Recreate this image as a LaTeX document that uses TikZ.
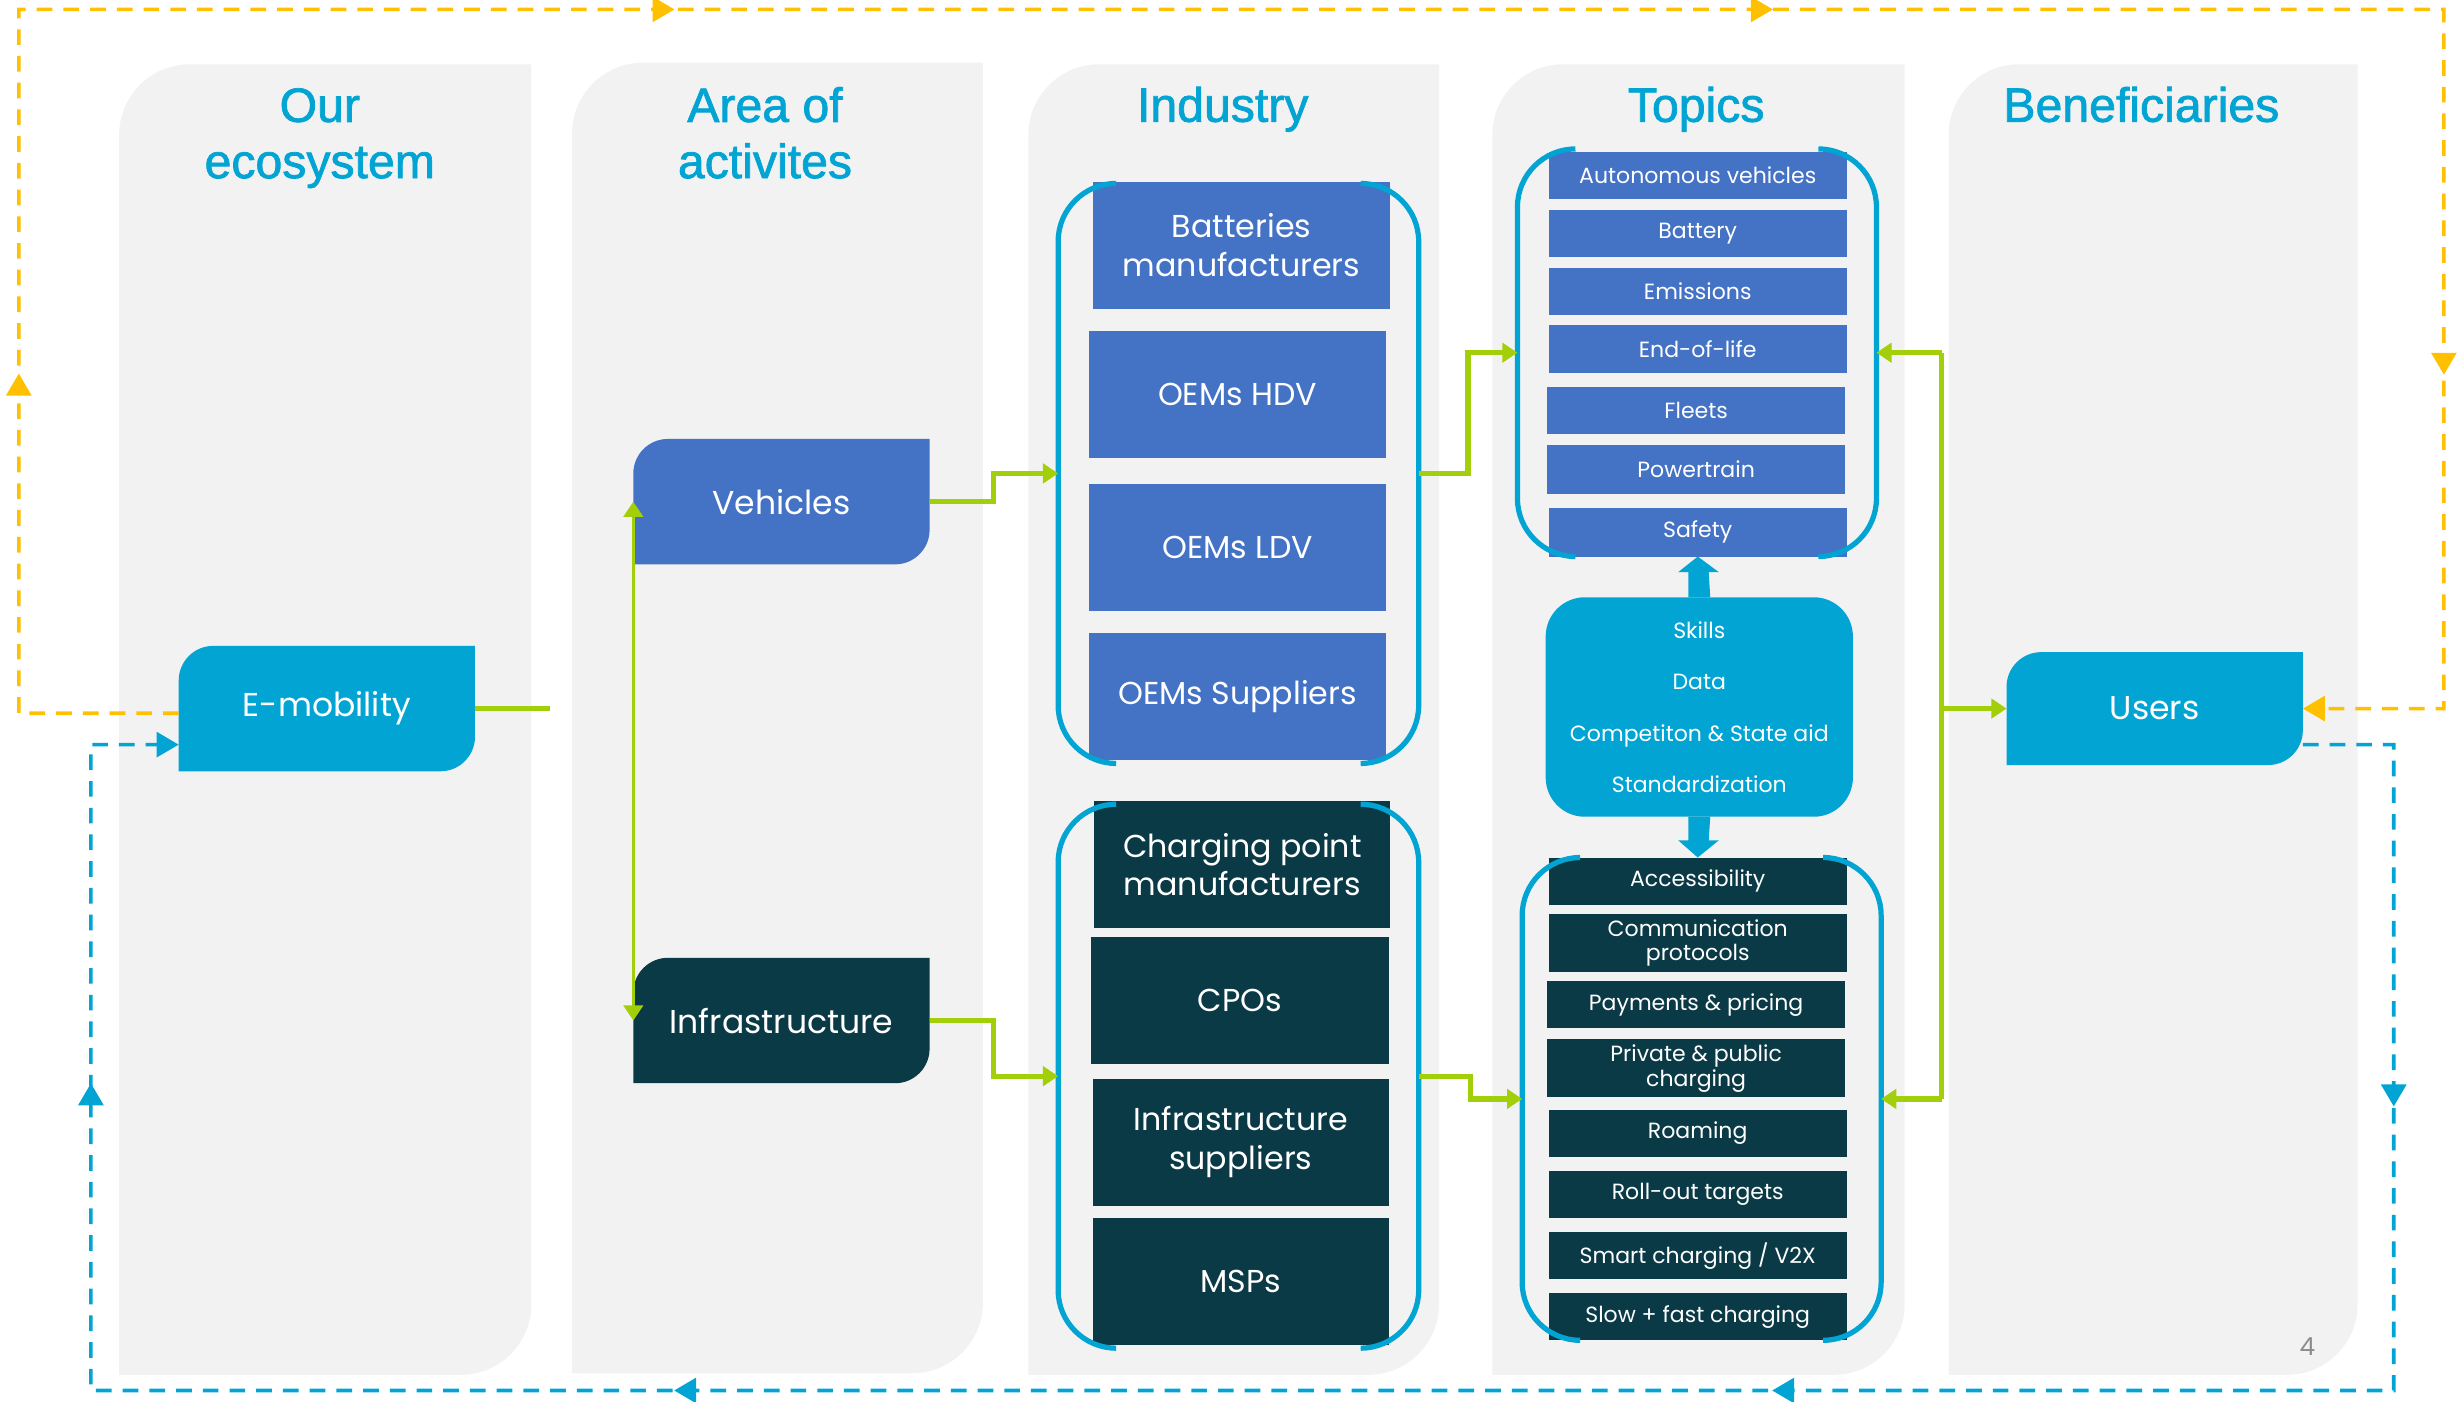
\documentclass[tikz,border=0pt]{standalone}
\usepackage{fontspec}
\setmainfont{Poppins}
\newfontfamily\headfont[FakeBold=1.5]{Liberation Sans}
\usetikzlibrary{calc,arrows.meta,decorations.markings}
\definecolor{cyanb}{HTML}{02A4D3}
\definecolor{blueb}{HTML}{4472C4}
\definecolor{darkb}{HTML}{0B3A47}
\definecolor{greenl}{HTML}{A3CE0A}
\definecolor{yell}{HTML}{FFC000}
\definecolor{colbg}{HTML}{F2F2F2}
\definecolor{pagegray}{HTML}{8C8C8C}
\pgfdeclarelayer{bg}
\pgfsetlayers{bg,main}
\newcommand\leafshape[3]{%
  \begin{pgfonlayer}{bg}
  \fill[#2] (#1.south west) -- ($(#1.north west)+(0,#3)$) .. controls ($(#1.north west)+(0,0.45*#3)$) and ($(#1.north west)+(0.45*#3,0)$) .. ($(#1.north west)+(#3,0)$) -- (#1.north east) -- ($(#1.south east)+(0,-#3)$) .. controls ($(#1.south east)+(0,-0.45*#3)$) and ($(#1.south east)+(-0.45*#3,0)$) .. ($(#1.south east)+(-#3,0)$) -- cycle;
  \end{pgfonlayer}}
\newcommand\colshape[5]{%
  \fill[colbg] (#1,#4) -- ({#1},{#2+#5}) .. controls ({#1},{#2+0.45*#5}) and ({#1+0.45*#5},{#2}) .. ({#1+#5},{#2}) -- (#3,#2) -- ({#3},{#4-#5}) .. controls ({#3},{#4-0.45*#5}) and ({#3-0.45*#5},{#4}) .. ({#3-#5},{#4}) -- cycle;}
\newcommand\brackets[2]{%
  \draw[brkline] ($(#1.north west)+(#2,0)$) .. controls ($(#1.north west)+(0.45*#2,0)$) and ($(#1.north west)+(0,0.45*#2)$) .. ($(#1.north west)+(0,#2)$) -- ($(#1.south west)+(0,-#2)$) .. controls ($(#1.south west)+(0,-0.45*#2)$) and ($(#1.south west)+(0.45*#2,0)$) .. ($(#1.south west)+(#2,0)$);
  \draw[brkline] ($(#1.north east)+(-#2,0)$) .. controls ($(#1.north east)+(-0.45*#2,0)$) and ($(#1.north east)+(0,0.45*#2)$) .. ($(#1.north east)+(0,#2)$) -- ($(#1.south east)+(0,-#2)$) .. controls ($(#1.south east)+(0,-0.45*#2)$) and ($(#1.south east)+(-0.45*#2,0)$) .. ($(#1.south east)+(-#2,0)$);}
\tikzset{
  dtip/.tip={Triangle[length=8pt,width=9pt]},
  gtip/.tip={Triangle[length=5.5pt,width=7pt]},
  pxsize/.style 2 args={minimum width=#1*0.02cm, minimum height=#2*0.02cm},
  sq/.style={inner sep=0pt, outer sep=0pt, text=white, align=center},
  indbox/.style={sq, font=\fontsize{11.5}{14}\selectfont},
  tpcbox/.style={sq, font=\fontsize{8}{9}\selectfont},
  leafbox/.style={sq, font=\fontsize{12}{15}\selectfont, pxsize={189}{80}},
  grp/.style={inner sep=0pt, outer sep=0pt},
  brkline/.style={draw=cyanb, line width=1.9pt},
  head/.style={text=cyanb, align=center, inner sep=0pt, font=\headfont\fontsize{17.5}{20.4}\selectfont},
  gline/.style={draw=greenl, line width=1.9pt},
  garr/.style={gline, -{gtip}},
  ydash/.style={draw=yell, line width=1.3pt, dash pattern=on 5.7pt off 4pt},
  bdash/.style={draw=cyanb, line width=1.3pt, dash pattern=on 5.7pt off 4pt},
  ymarks/.style={postaction={decorate}, decoration={markings,
     mark=at position 0.121 with {\arrow{dtip}},
     mark=at position 0.368 with {\arrow{dtip}},
     mark=at position 0.634 with {\arrow{dtip}},
     mark=at position 0.885 with {\arrow{dtip}}}},
  bmarks/.style={postaction={decorate}, decoration={markings,
     mark=at position 0.120 with {\arrow{dtip}},
     mark=at position 0.360 with {\arrow{dtip}},
     mark=at position 0.651 with {\arrow{dtip}},
     mark=at position 0.887 with {\arrow{dtip}}}}
}
\begin{document}
\begin{tikzpicture}[x=0.02cm,y=-0.02cm]
\useasboundingbox (0,0) rectangle (1568,894);
\begin{pgfonlayer}{bg}
\colshape{76}{41}{339}{877}{45}
\colshape{365}{40}{627}{876}{45}
\colshape{656}{41}{918}{877}{45}
\colshape{952}{41}{1215}{877}{45}
\colshape{1243}{41}{1504}{877}{45}
\end{pgfonlayer}
% headings
\node[head] (h1) at (204,88.5) {\strut Our\\\strut ecosystem};
\node[head] (h2) at (488,88.5) {\strut Area of\\\strut activites};
\node[head] (h3) at (780,70.5) {\strut Industry};
\node[head] (h4) at (1082,70.5) {\strut Topics};
\node[head] (h5) at (1366,70.5) {\strut Beneficiaries};
% leaf nodes
\node[leafbox] (emob) at (208.5,452) {E-mobility};
\node[leafbox] (veh) at (498.5,320) {Vehicles};
\node[leafbox] (infra) at (498.5,651) {Infrastructure};
\node[leafbox, pxsize={189}{72}] (users) at (1374.5,452) {Users};
\leafshape{emob}{cyanb}{22}
\leafshape{veh}{blueb}{22}
\leafshape{infra}{darkb}{22}
\leafshape{users}{cyanb}{22}
% industry boxes
\node[indbox, fill=blueb, pxsize={190}{81}] (bat) at (792,156.5) {Batteries\\manufacturers};
\node[indbox, fill=blueb, pxsize={189}{81}] (hdv) at (789.5,251.5) {OEMs HDV};
\node[indbox, fill=blueb, pxsize={189}{81}] (ldv) at (789.5,349.5) {OEMs LDV};
\node[indbox, fill=blueb, pxsize={189}{81}] (sup) at (789.5,444.5) {OEMs Suppliers};
\node[indbox, fill=darkb, pxsize={189}{81}] (cpm) at (792.5,551.5) {Charging point\\manufacturers};
\node[indbox, fill=darkb, pxsize={190}{81}] (cpo) at (791,638.5) {CPOs};
\node[indbox, fill=darkb, pxsize={189}{81}] (isup) at (791.5,728.5) {Infrastructure\\suppliers};
\node[indbox, fill=darkb, pxsize={189}{81}] (msp) at (791.5,817.5) {MSPs};
% topics
\node[tpcbox, fill=blueb, pxsize={190}{30}] (av) at (1083,112) {Autonomous vehicles};
\node[tpcbox, fill=blueb, pxsize={190}{30}] (batt) at (1083,149) {Battery};
\node[tpcbox, fill=blueb, pxsize={190}{30}] (emi) at (1083,186) {Emissions};
\node[tpcbox, fill=blueb, pxsize={190}{31}] (eol) at (1083,222.5) {End-of-life};
\node[tpcbox, fill=blueb, pxsize={190}{30}] (flt) at (1082,262) {Fleets};
\node[tpcbox, fill=blueb, pxsize={190}{31}] (pwr) at (1082,299.5) {Powertrain};
\node[tpcbox, fill=blueb, pxsize={190}{31}] (saf) at (1083,339.5) {Safety};
\node[sq, fill=cyanb, rounded corners=0.5cm, pxsize={196}{140}, font=\fontsize{8}{18.7}\selectfont] (skills) at (1084,451) {Skills\\Data\\Competiton \& State aid\\Standardization};
\node[tpcbox, fill=darkb, pxsize={190}{30}] (acc) at (1083,562) {Accessibility};
\node[tpcbox, fill=darkb, pxsize={190}{37}] (com) at (1083,601.5) {Communication\\protocols};
\node[tpcbox, fill=darkb, pxsize={190}{30}] (pay) at (1082,641) {Payments \& pricing};
\node[tpcbox, fill=darkb, pxsize={190}{37}] (prv) at (1082,681.5) {Private \& public\\charging};
\node[tpcbox, fill=darkb, pxsize={190}{30}] (roa) at (1083,723) {Roaming};
\node[tpcbox, fill=darkb, pxsize={190}{30}] (rol) at (1083,762) {Roll-out targets};
\node[tpcbox, fill=darkb, pxsize={190}{30}] (sma) at (1083,801) {Smart charging / V2X};
\node[tpcbox, fill=darkb, pxsize={190}{30}] (slo) at (1083,840) {Slow + fast charging};
% groups and brackets
\node[grp, pxsize={230}{370}] (g1) at (790,302) {};
\node[grp, pxsize={230}{347}] (g2) at (790,686.5) {};
\node[grp, pxsize={229}{260}] (g3) at (1082.5,225) {};
\node[grp, pxsize={229}{308}] (g4) at (1085.5,701) {};
\brackets{g1}{37}
\brackets{g2}{37}
\brackets{g3}{37}
\brackets{g4}{37}
% block arrows
\fill[cyanb] ($(skills.north)+(-7,0)$) -- ++(0,-16) -- ++(-6.5,0) -- (saf.south) -- ++(13.5,10) -- ++(-6.5,0) -- ($(skills.north)+(7,0)$) -- cycle;
\fill[cyanb] ($(skills.south)+(-7,0)$) -- ++(0,15) -- ++(-6.5,0) -- (acc.north) -- ++(13.5,-11) -- ++(-6.5,0) -- ($(skills.south)+(7,0)$) -- cycle;
% green connectors
\coordinate (emobend) at (351,452);
\draw[gline] (emob.east) -- (emobend);
\draw[draw=greenl, line width=1.2pt, {gtip}-{gtip}] (veh.west) -- (infra.west);
\draw[garr] (veh.east) -| ($(veh.east)!0.5!(g1.west)$) |- (g1.west);
\draw[garr] (infra.east) -| ($(infra.east)!0.5!(g2.west)$) |- (g2.west);
\draw[garr] (g1.east) -| ($(g1.east)!0.5!(g3.west)$) |- (g3.west);
\draw[garr] (g2.east) -| ($(g2.east)!0.5!(g4.west)$) |- (g4.west);
\coordinate (hub) at ($(g3.east |- users.west)!0.5!(users.west)$);
\draw[gline] (hub |- g3.east) -- (hub |- g4.east);
\draw[garr] (hub) -- (users.west);
\draw[garr] (hub |- g3.east) -- (g3.east);
\draw[garr] (hub |- g4.east) -- (g4.east);
% dashed loops
\coordinate (yA) at (12,455);
\coordinate (yB) at (12,6);
\coordinate (yC) at (1559,6);
\coordinate (yD) at (1559,452);
\draw[ydash, -{dtip}, ymarks] ([yshift=-0.06cm]emob.west) -- (yA) -- (yB) -- (yC) -- (yD) -- (users.east);
\coordinate (bA) at (1527,475);
\coordinate (bB) at (1527,887);
\coordinate (bC) at (58,887);
\coordinate (bD) at (58,475);
\draw[bdash, -{dtip}, bmarks] ([yshift=-0.46cm]users.east) -- (bA) -- (bB) -- (bC) -- (bD) -- ([yshift=-0.46cm]emob.west);
\node[text=pagegray, inner sep=0pt, font=\fontsize{9}{10}\selectfont] (pg) at (1472,859) {4};
\end{tikzpicture}
\end{document}
